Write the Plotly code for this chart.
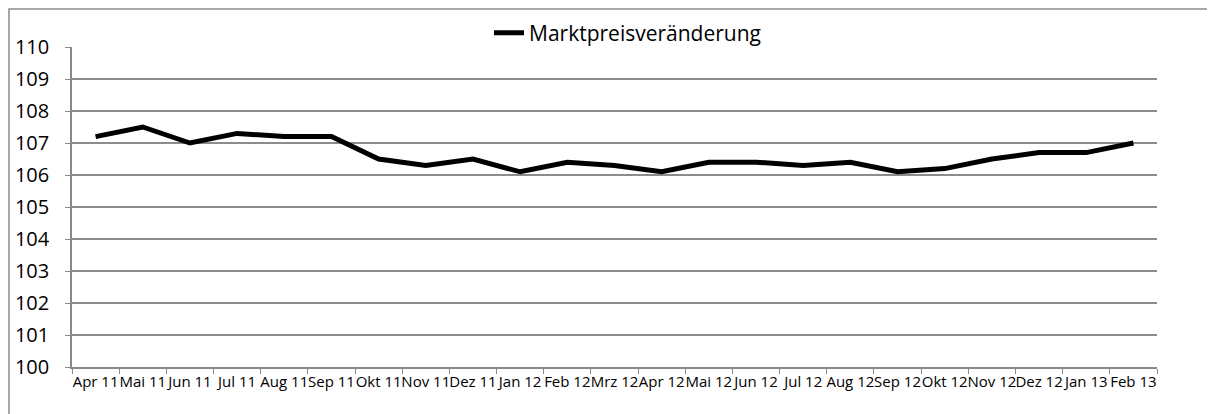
import plotly.graph_objects as go

months = ["Apr 11", "Mai 11", "Jun 11", "Jul 11", "Aug 11", "Sep 11", "Okt 11", "Nov 11",
          "Dez 11", "Jan 12", "Feb 12", "Mrz 12", "Apr 12", "Mai 12", "Jun 12", "Jul 12",
          "Aug 12", "Sep 12", "Okt 12", "Nov 12", "Dez 12", "Jan 13", "Feb 13"]
values = [107.2, 107.5, 107.0, 107.3, 107.2, 107.2, 106.5, 106.3,
          106.5, 106.1, 106.4, 106.3, 106.1, 106.4, 106.4, 106.3,
          106.4, 106.1, 106.2, 106.5, 106.7, 106.7, 107.0]
series_name = "Marktpreisveränderung"
y_ticks = list(range(100, 111))

W, H = 1215, 414
OFF = 8  # page body offset
plot_w, plot_h = 1085, 320
ml, mt = 72 - OFF, 47 - OFF
mr = W - ml - plot_w
mb = H - mt - plot_h

fig = go.Figure()
fig.add_trace(go.Scatter(x=months, y=values, mode="lines", name=series_name,
                         line=dict(color="black", width=5), showlegend=True))

fig.update_layout(
    width=W, height=H,
    margin=dict(l=ml, r=mr, t=mt, b=mb, autoexpand=False),
    paper_bgcolor="white", plot_bgcolor="white",
    font=dict(family="Open Sans, Liberation Sans, sans-serif", color="black"),
    showlegend=True,
    legend=dict(orientation="h", xref="container", yref="container",
                x=(489 - OFF) / W, xanchor="left", y=1 - (33 - OFF) / H, yanchor="middle",
                font=dict(size=21), bgcolor="rgba(0,0,0,0)"),
    xaxis=dict(type="category", tickson="boundaries", ticks="outside", ticklen=5,
               tickcolor="#888888", showline=True, linecolor="#888888", linewidth=1.5,
               showgrid=False, tickfont=dict(size=15), tickangle=0, automargin=False,
               range=[-0.5, len(months) - 0.5]),
    yaxis=dict(range=[100, 110], tickvals=y_ticks, ticks="outside", ticklen=5,
               tickcolor="#888888", showline=True, linecolor="#888888", linewidth=1.5,
               showgrid=True, gridcolor="#8c8c8c", gridwidth=1.5, automargin=False,
               tickfont=dict(size=20), zeroline=False, ticklabelstandoff=12),
)

# outer chart border (left/top visible), in figure pixels converted to paper coords
bx, by = 1, 1
fig.add_shape(type="rect", xref="paper", yref="paper",
              x0=(bx - ml) / plot_w, x1=(W + 10 - ml) / plot_w,
              y0=-(H + 10 - mt - plot_h) / plot_h, y1=(mt + plot_h - by) / plot_h,
              line=dict(color="#8c8c8c", width=1.5), fillcolor="rgba(0,0,0,0)", layer="below")

fig.write_html("out.html")
